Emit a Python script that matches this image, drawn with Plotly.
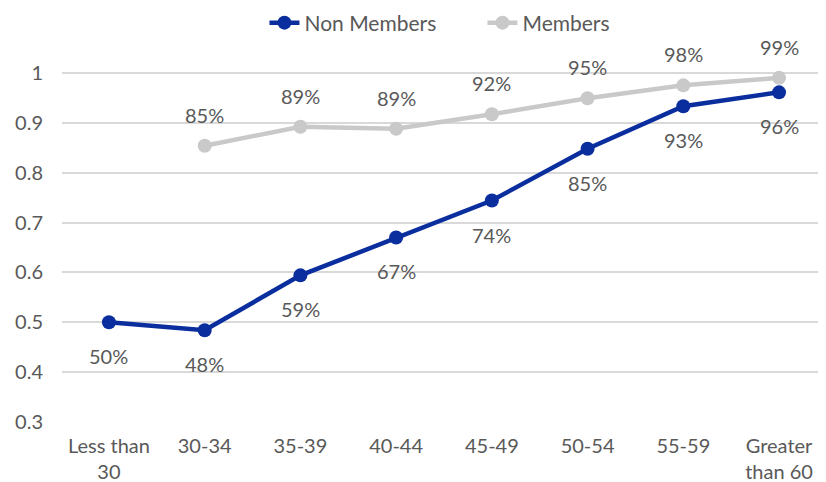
import plotly.graph_objects as go

categories = ["Less than<br>30", "30-34", "35-39", "40-44", "45-49", "50-54", "55-59", "Greater<br>than 60"]
non_members = [0.50, 0.484, 0.594, 0.670, 0.744, 0.848, 0.933, 0.961]
members = [None, 0.854, 0.892, 0.888, 0.917, 0.949, 0.975, 0.990]
y_ticks = [0.3, 0.4, 0.5, 0.6, 0.7, 0.8, 0.9, 1.0]
y_tick_text = ["0.3", "0.4", "0.5", "0.6", "0.7", "0.8", "0.9", "1"]

FONT = "Lato, 'Noto Sans', sans-serif"
TXT = "#595959"
BLUE = "#0A2E9E"
GREY = "#C9C9C9"
FS = 20

fig = go.Figure()
fig.add_trace(go.Scatter(
    x=categories, y=non_members, name="Non Members", mode="lines+markers",
    line=dict(color=BLUE, width=4.5), marker=dict(size=14, color=BLUE),
    cliponaxis=False,
))
fig.add_trace(go.Scatter(
    x=categories, y=members, name="Members", mode="lines+markers",
    line=dict(color=GREY, width=4.5), marker=dict(size=14, color=GREY),
    cliponaxis=False,
))

for c, v in zip(categories, non_members):
    fig.add_annotation(x=c, y=v, text=f"{v:.0%}", showarrow=False, yshift=-34,
                       font=dict(size=FS, color=TXT, family=FONT))
for c, v in zip(categories, members):
    if v is None:
        continue
    fig.add_annotation(x=c, y=v, text=f"{v:.0%}", showarrow=False, yshift=31,
                       font=dict(size=FS, color=TXT, family=FONT))

# page body has an 8px margin, so the figure is drawn 8px in from the top-left
fig.update_layout(
    width=818, height=474,
    margin=dict(l=54, r=0, t=15, b=60, autoexpand=False),
    paper_bgcolor="white", plot_bgcolor="white",
    font=dict(family=FONT, size=FS, color=TXT),
    showlegend=True,
    legend=dict(orientation="h", x=0.265, xanchor="left", y=1.0, yanchor="middle",
                bgcolor="rgba(0,0,0,0)", entrywidth=173, entrywidthmode="pixels",
                font=dict(size=21, color=TXT, family=FONT)),
    xaxis=dict(showgrid=False, showline=False, ticks="", ticklabelstandoff=10,
               tickfont=dict(size=FS, color=TXT)),
    yaxis=dict(range=[0.3, 1.1], tickvals=y_ticks, ticktext=y_tick_text,
               showgrid=True, gridcolor="#D9D9D9", gridwidth=2, zeroline=False,
               showline=False, ticks="", ticklabelstandoff=18,
               tickfont=dict(size=FS, color=TXT)),
)

fig.write_html("out.html")
